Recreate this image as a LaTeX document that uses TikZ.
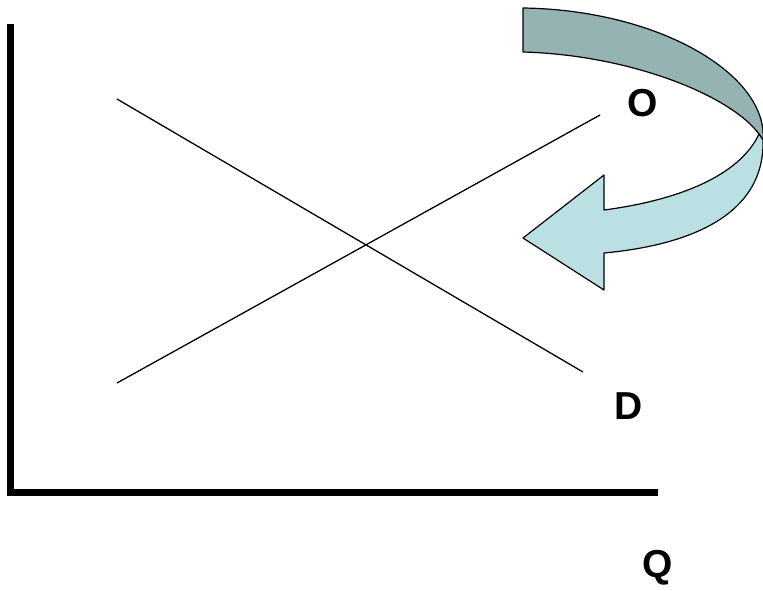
\documentclass[tikz,border=0pt]{standalone}
\usepackage{fontspec}
\setmainfont{Liberation Sans}
\usepackage{xcolor}
\usepackage{tikz}
\definecolor{bandgrey}{RGB}{150,179,180}
\definecolor{bandlight}{RGB}{186,224,227}
\tikzset{every picture/.style={line width=.55pt}}

\begin{document}
\begin{tikzpicture}[x=1pt,y=-1pt,
  every node/.style={font=\fontsize{39}{42}\bfseries\selectfont},
  axis/.style={draw=black,line width=7pt},
  curve/.style={draw=black,line width=1.3pt},
  band/.style={draw=black,line width=1.2pt,line join=round}]
  \useasboundingbox (0,0) rectangle (763,590);

  % Axes.
  \draw[axis] (10,24)--(10,492)--(658,492);

  % Demand and supply.
  \draw[curve] (117,99)--(583,372);
  \draw[curve] (117,383)--(600,115);

  % Curved arrow: back of the ribbon first, then the front with the head.
  \filldraw[band,fill=bandgrey] (523,8)--(523,52)
    .. controls (630,55) and (730,95) .. (759,134)
    --(763,140)
    .. controls (768,75) and (660,10) .. (523,8)--cycle;
  \filldraw[band,fill=bandlight] (763,140)
    .. controls (765,215) and (690,245) .. (604,253)
    --(604,290)--(523,238)--(604,175)--(604,210)
    .. controls (680,200) and (740,175) .. (759,134)--cycle;

  \node (o) at (643,103) {O};
  \node (d) at (629,406) {D};
  \node (q) at (658,568) {Q};
\end{tikzpicture}
\end{document}
